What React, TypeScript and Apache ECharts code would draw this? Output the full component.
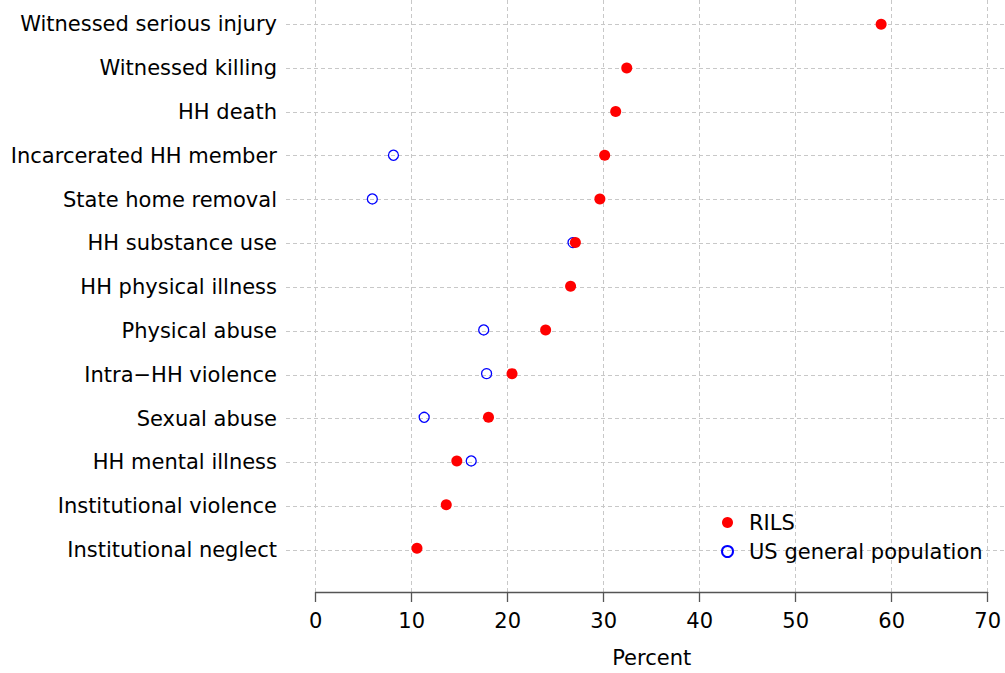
import React, { useEffect, useRef } from "react";
import * as echarts from "echarts";

// Categories listed top to bottom
const categories = [
  "Witnessed serious injury",
  "Witnessed killing",
  "HH death",
  "Incarcerated HH member",
  "State home removal",
  "HH substance use",
  "HH physical illness",
  "Physical abuse",
  "Intra\u2212HH violence",
  "Sexual abuse",
  "HH mental illness",
  "Institutional violence",
  "Institutional neglect",
];

// Percent reporting each experience
const rilsValues = [58.9, 32.4, 31.25, 30.1, 29.6, 27.05, 26.55, 23.95, 20.45, 18.0, 14.7, 13.6, 10.55];
const usValues: (number | null)[] = [null, null, null, 8.1, 5.9, 26.8, null, 17.5, 17.8, 11.3, 16.2, null, null];

const xTicks = [0, 10, 20, 30, 40, 50, 60, 70];

const FONT = "DejaVu Sans";
const N = categories.length;
const Y_MIN = -1;
const Y_MAX = 12.555;

const toPoints = (vals: (number | null)[]) =>
  vals
    .map((v, i) => (v == null ? null : [v, N - 1 - i]))
    .filter((p) => p !== null);

export default function App() {
  const ref = useRef<HTMLDivElement>(null);

  useEffect(() => {
    if (!ref.current) return;
    const chart = echarts.init(ref.current, undefined, { renderer: "svg" });
    const dashed = { color: "#c8c8c8", width: 1, type: [4, 3] as number[] };

    chart.setOption({
      animation: false,
      backgroundColor: "#ffffff",
      grid: [
        // wide panel carrying the category labels and horizontal guides
        { left: 286, right: 0, top: 0, bottom: 79.2 },
        // data panel with the percent axis
        { left: 315.7, right: 17.3, top: 0, bottom: 79.2 },
      ],
      xAxis: [
        { gridIndex: 0, type: "value", min: 0, max: 1, show: false },
        {
          gridIndex: 1,
          type: "value",
          min: xTicks[0],
          max: xTicks[xTicks.length - 1],
          interval: 10,
          name: "Percent",
          nameLocation: "middle",
          nameGap: 55,
          nameTextStyle: { fontFamily: FONT, fontSize: 21, color: "#000" },
          axisLine: { show: true, onZero: false, lineStyle: { color: "#555", width: 1.3 } },
          axisTick: { show: true, length: 10, lineStyle: { color: "#555", width: 1.3 } },
          axisLabel: { margin: 18, fontFamily: FONT, fontSize: 21, color: "#000" },
          splitLine: { show: true, lineStyle: dashed },
        },
      ],
      yAxis: [
        {
          gridIndex: 0,
          type: "value",
          min: Y_MIN,
          max: Y_MAX,
          interval: 1,
          axisLine: { show: false },
          axisTick: { show: false },
          axisLabel: {
            margin: 9,
            fontFamily: FONT,
            fontSize: 21,
            color: "#000",
            showMaxLabel: false,
            showMinLabel: false,
            formatter: (v: number) => {
              const idx = Math.round(v);
              if (Math.abs(v - idx) > 1e-6 || idx < 0 || idx >= N) return "";
              return categories[N - 1 - idx];
            },
          },
          splitLine: { show: true, showMinLine: false, showMaxLine: false, lineStyle: dashed },
        },
        {
          gridIndex: 1,
          type: "value",
          min: Y_MIN,
          max: Y_MAX,
          show: false,
          splitLine: { show: false },
        },
      ],
      legend: {
        orient: "vertical",
        left: 716,
        top: 507,
        itemWidth: 11,
        itemHeight: 11,
        itemGap: 8,
        data: ["RILS", "US general population"],
        textStyle: { fontFamily: FONT, fontSize: 21, color: "#000", padding: [0, 0, 0, 11] },
      },
      series: [
        {
          name: "US general population",
          type: "scatter",
          xAxisIndex: 1,
          yAxisIndex: 1,
          symbol: "circle",
          symbolSize: 10,
          itemStyle: { color: "rgba(0,0,0,0)", borderColor: "#0000ff", borderWidth: 1.3, opacity: 1 },
          data: toPoints(usValues),
        },
        {
          name: "RILS",
          type: "scatter",
          xAxisIndex: 1,
          yAxisIndex: 1,
          symbol: "circle",
          symbolSize: 11,
          itemStyle: { color: "#ff0000", opacity: 1 },
          data: toPoints(rilsValues),
        },
      ],
    });

    return () => chart.dispose();
  }, []);

  return (
    <div
      ref={ref}
      style={{ position: "fixed", left: 0, top: 0, width: 1005, height: 673, background: "#fff" }}
    />
  );
}
